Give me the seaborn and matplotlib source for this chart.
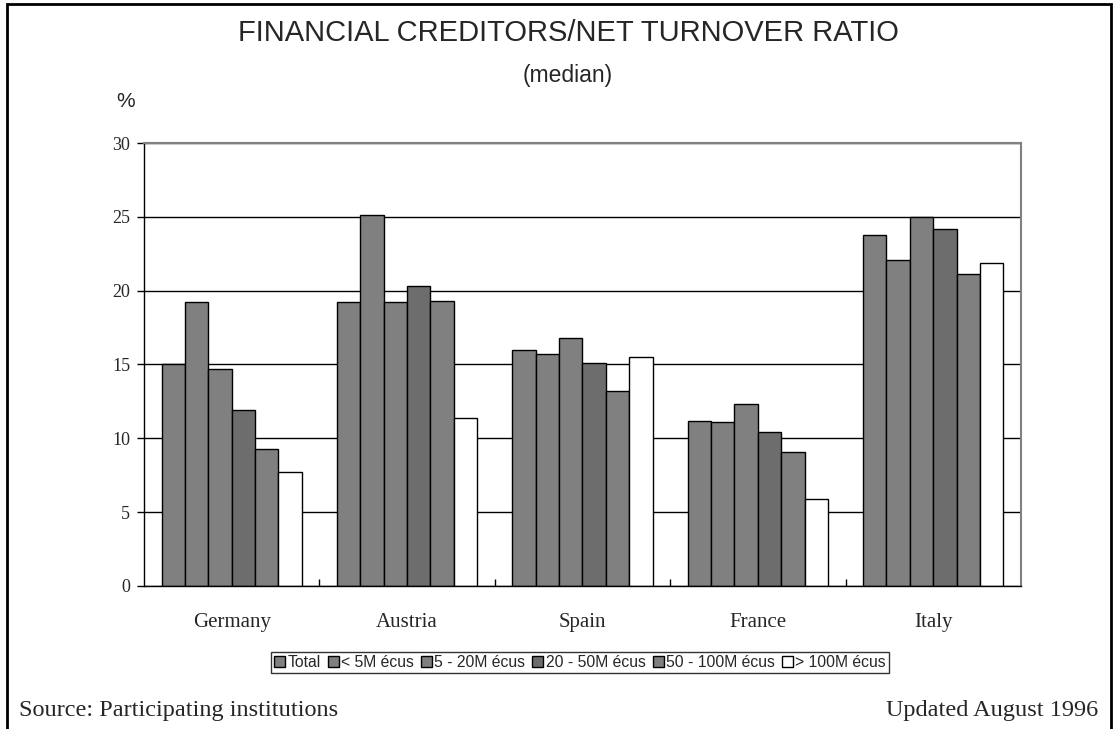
import pandas as pd
import matplotlib.pyplot as plt
import seaborn as sns
from matplotlib.patches import Rectangle
from matplotlib.ticker import FixedLocator

countries = ["Germany", "Austria", "Spain", "France", "Italy"]
size_classes = ["Total", "< 5M écus", "5 - 20M écus", "20 - 50M écus",
                "50 - 100M écus", "> 100M écus"]
total = [15.0, 19.2, 16.0, 11.2, 23.8]
under_5m = [19.2, 25.1, 15.7, 11.1, 22.1]
from_5_20m = [14.7, 19.2, 16.8, 12.3, 25.0]
from_20_50m = [11.9, 20.3, 15.1, 10.4, 24.2]
from_50_100m = [9.3, 19.3, 13.2, 9.1, 21.1]
over_100m = [7.7, 11.4, 15.5, 5.9, 21.9]
bar_colors = ["#808080", "#808080", "#808080", "#6d6d6d", "#808080", "#ffffff"]

series = [total, under_5m, from_5_20m, from_20_50m, from_50_100m, over_100m]
rows = []
for cls, vals in zip(size_classes, series):
    for c, v in zip(countries, vals):
        rows.append({"country": c, "size": cls, "value": v})
df = pd.DataFrame(rows)

sns.set_style("white")
fig = plt.figure(figsize=(11.18, 7.29), dpi=100)
ax = fig.add_axes([0.1288, 0.1962, 0.7844, 0.6076])

sns.barplot(data=df, x="country", y="value", hue="size", order=countries,
            hue_order=size_classes, palette=bar_colors, saturation=1,
            edgecolor="black", linewidth=1, width=0.8, ax=ax)

ax.set_ylim(0, 30)
ax.set_xlim(-0.5, 4.5)
ax.set_yticks(range(0, 31, 5))
ax.yaxis.grid(True, color="black", linewidth=1)
ax.set_axisbelow(True)
ax.set_xlabel("")
ax.set_ylabel("")
for side in ["left", "bottom"]:
    ax.spines[side].set_color("black")
    ax.spines[side].set_linewidth(1)
for side in ["top", "right"]:
    ax.spines[side].set_color("#808080")
    ax.spines[side].set_linewidth(1.5)
    ax.spines[side].set_visible(True)

ax.tick_params(axis="y", which="major", direction="out", length=5, width=1,
               color="black", labelsize=13, pad=5, left=True)
ax.tick_params(axis="x", which="major", length=0, labelsize=15, pad=19.5)
ax.xaxis.set_minor_locator(FixedLocator([0.5, 1.5, 2.5, 3.5]))
ax.tick_params(axis="x", which="minor", direction="in", length=5, width=1,
               color="black", bottom=True)
for lbl in ax.get_xticklabels() + ax.get_yticklabels():
    lbl.set_family("Liberation Serif")

leg = ax.legend(loc="upper center", bbox_to_anchor=(0.497, -0.149), ncol=6,
                frameon=True, fancybox=False, edgecolor="black",
                prop={"family": "Liberation Sans", "size": 11.3},
                handlelength=0.7, handleheight=0.7, handletextpad=0.15,
                columnspacing=0.45, borderpad=0.2, borderaxespad=0)
leg.get_frame().set_linewidth(1)
for h in leg.legend_handles:
    h.set_edgecolor("black")
    h.set_linewidth(1)

fig.text(0.508, 0.955, "FINANCIAL CREDITORS/NET TURNOVER RATIO", ha="center",
         va="center", family="Liberation Sans", fontsize=21)
fig.text(0.508, 0.897, "(median)", ha="center", va="center",
         family="Liberation Sans", fontsize=16.5)
fig.text(0.112, 0.861, "%", ha="center", va="center",
         family="Liberation Sans", fontsize=15)
fig.text(0.017, 0.026, "Source: Participating institutions", ha="left",
         va="center", family="Liberation Serif", fontsize=17.5)
fig.text(0.982, 0.026, "Updated August 1996", ha="right", va="center",
         family="Liberation Serif", fontsize=17.5)

fig.patches.append(Rectangle((0.0065, -0.01), 0.9875, 1.005, transform=fig.transFigure,
                             fill=False, edgecolor="black", linewidth=2))

fig.savefig("out.png", dpi=100)
